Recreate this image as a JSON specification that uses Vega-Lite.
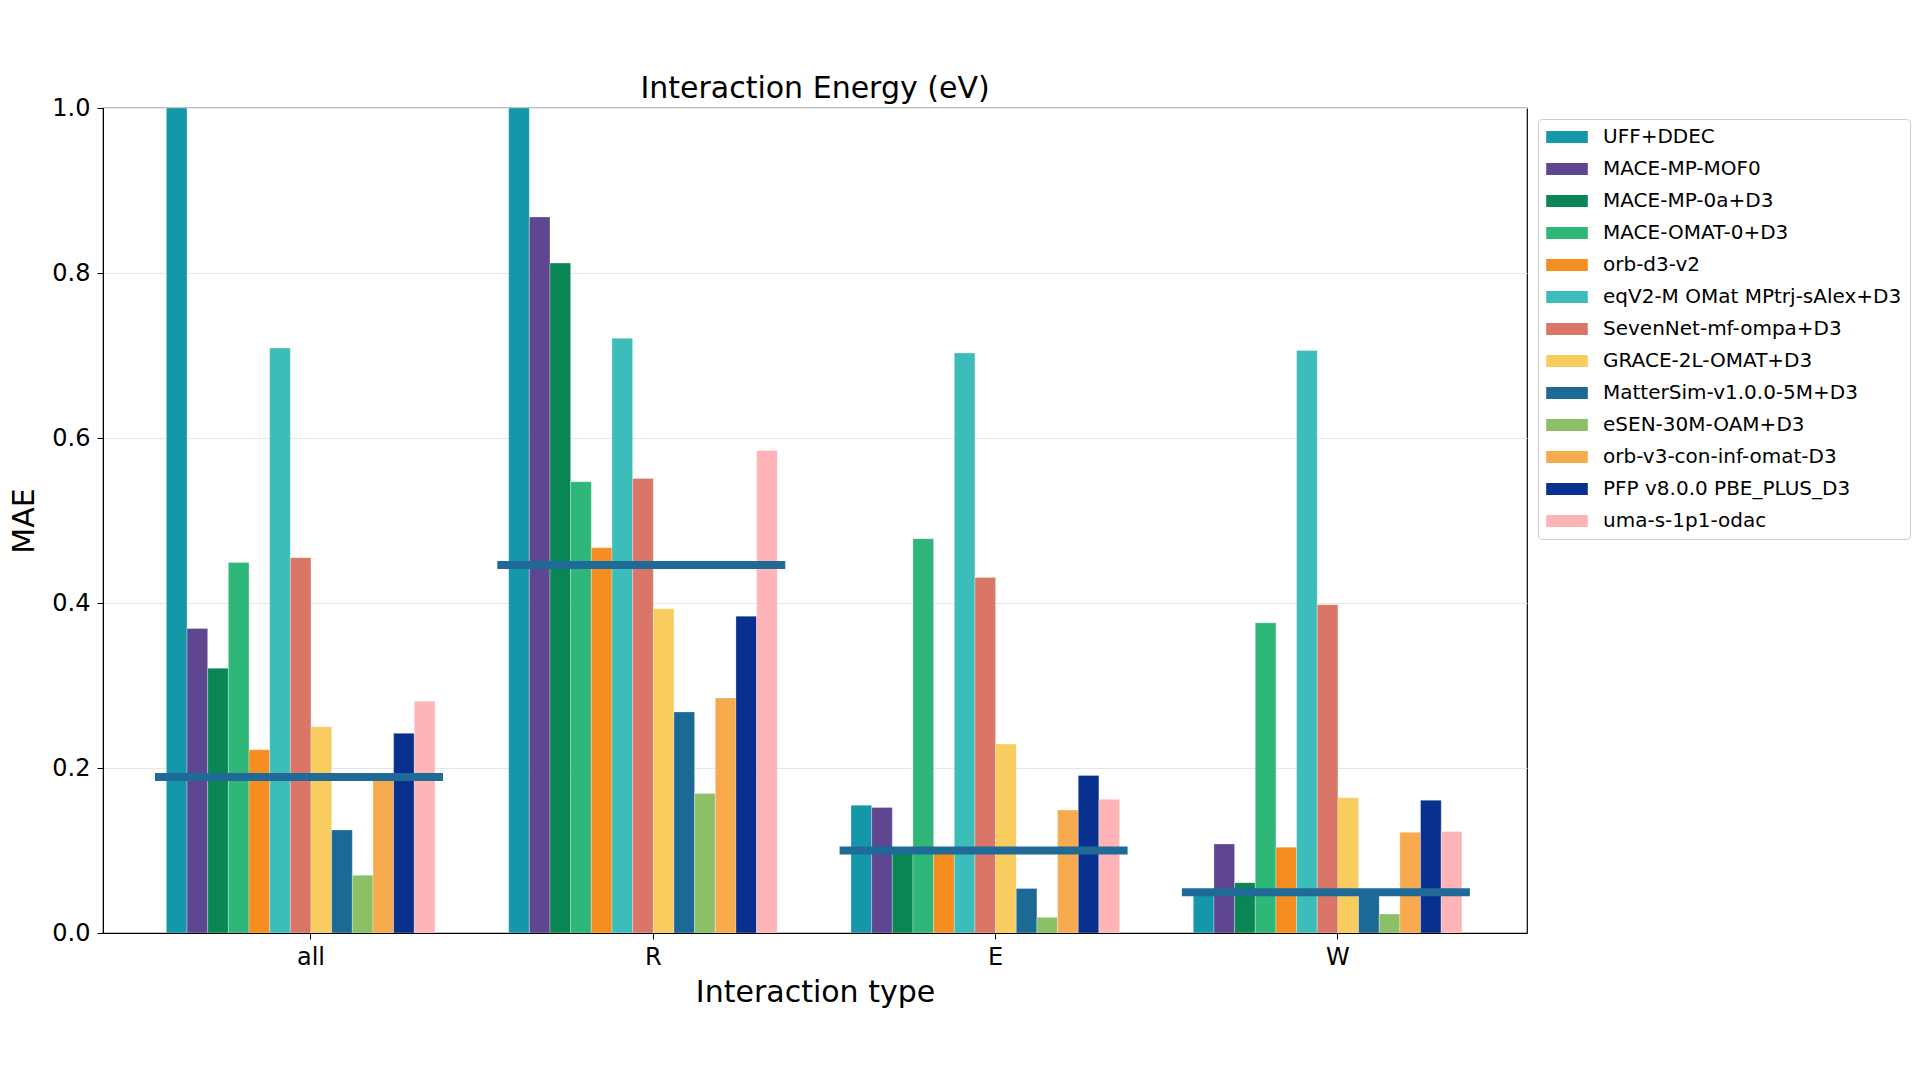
{
  "$schema": "https://vega.github.io/schema/vega-lite/v6.json",
  "width": 1424,
  "height": 825,
  "autosize": {"type": "none"},
  "padding": {"left": 103, "top": 108, "right": 393, "bottom": 147},
  "background": "white",
  "config": {
    "font": "DejaVu Sans",
    "view": {"stroke": "black", "strokeWidth": 1.2},
    "axis": {
      "labelColor": "black",
      "titleColor": "black",
      "titleFontWeight": "normal",
      "domainColor": "black",
      "tickColor": "black",
      "labelFontSize": 24,
      "titleFontSize": 30,
      "tickSize": 6
    }
  },
  "title": {
    "text": "Interaction Energy (eV)",
    "fontSize": 30,
    "fontWeight": "normal",
    "color": "black",
    "frame": "group",
    "anchor": "middle",
    "baseline": "alphabetic",
    "offset": -32
  },
  "datasets": {
    "bars": [
      {"type": "all", "model": "UFF+DDEC", "mae": 1.0},
      {"type": "all", "model": "MACE-MP-MOF0", "mae": 0.369},
      {"type": "all", "model": "MACE-MP-0a+D3", "mae": 0.321},
      {"type": "all", "model": "MACE-OMAT-0+D3", "mae": 0.449},
      {"type": "all", "model": "orb-d3-v2", "mae": 0.222},
      {"type": "all", "model": "eqV2-M OMat MPtrj-sAlex+D3", "mae": 0.709},
      {"type": "all", "model": "SevenNet-mf-ompa+D3", "mae": 0.455},
      {"type": "all", "model": "GRACE-2L-OMAT+D3", "mae": 0.25},
      {"type": "all", "model": "MatterSim-v1.0.0-5M+D3", "mae": 0.125},
      {"type": "all", "model": "eSEN-30M-OAM+D3", "mae": 0.07},
      {"type": "all", "model": "orb-v3-con-inf-omat-D3", "mae": 0.188},
      {"type": "all", "model": "PFP v8.0.0 PBE_PLUS_D3", "mae": 0.242},
      {"type": "all", "model": "uma-s-1p1-odac", "mae": 0.281},
      {"type": "R", "model": "UFF+DDEC", "mae": 1.0},
      {"type": "R", "model": "MACE-MP-MOF0", "mae": 0.868},
      {"type": "R", "model": "MACE-MP-0a+D3", "mae": 0.812},
      {"type": "R", "model": "MACE-OMAT-0+D3", "mae": 0.547},
      {"type": "R", "model": "orb-d3-v2", "mae": 0.467},
      {"type": "R", "model": "eqV2-M OMat MPtrj-sAlex+D3", "mae": 0.721},
      {"type": "R", "model": "SevenNet-mf-ompa+D3", "mae": 0.551},
      {"type": "R", "model": "GRACE-2L-OMAT+D3", "mae": 0.393},
      {"type": "R", "model": "MatterSim-v1.0.0-5M+D3", "mae": 0.268},
      {"type": "R", "model": "eSEN-30M-OAM+D3", "mae": 0.169},
      {"type": "R", "model": "orb-v3-con-inf-omat-D3", "mae": 0.285},
      {"type": "R", "model": "PFP v8.0.0 PBE_PLUS_D3", "mae": 0.384},
      {"type": "R", "model": "uma-s-1p1-odac", "mae": 0.585},
      {"type": "E", "model": "UFF+DDEC", "mae": 0.155},
      {"type": "E", "model": "MACE-MP-MOF0", "mae": 0.152},
      {"type": "E", "model": "MACE-MP-0a+D3", "mae": 0.098},
      {"type": "E", "model": "MACE-OMAT-0+D3", "mae": 0.478},
      {"type": "E", "model": "orb-d3-v2", "mae": 0.098},
      {"type": "E", "model": "eqV2-M OMat MPtrj-sAlex+D3", "mae": 0.703},
      {"type": "E", "model": "SevenNet-mf-ompa+D3", "mae": 0.431},
      {"type": "E", "model": "GRACE-2L-OMAT+D3", "mae": 0.229},
      {"type": "E", "model": "MatterSim-v1.0.0-5M+D3", "mae": 0.054},
      {"type": "E", "model": "eSEN-30M-OAM+D3", "mae": 0.019},
      {"type": "E", "model": "orb-v3-con-inf-omat-D3", "mae": 0.149},
      {"type": "E", "model": "PFP v8.0.0 PBE_PLUS_D3", "mae": 0.191},
      {"type": "E", "model": "uma-s-1p1-odac", "mae": 0.162},
      {"type": "W", "model": "UFF+DDEC", "mae": 0.046},
      {"type": "W", "model": "MACE-MP-MOF0", "mae": 0.108},
      {"type": "W", "model": "MACE-MP-0a+D3", "mae": 0.061},
      {"type": "W", "model": "MACE-OMAT-0+D3", "mae": 0.376},
      {"type": "W", "model": "orb-d3-v2", "mae": 0.104},
      {"type": "W", "model": "eqV2-M OMat MPtrj-sAlex+D3", "mae": 0.706},
      {"type": "W", "model": "SevenNet-mf-ompa+D3", "mae": 0.398},
      {"type": "W", "model": "GRACE-2L-OMAT+D3", "mae": 0.164},
      {"type": "W", "model": "MatterSim-v1.0.0-5M+D3", "mae": 0.048},
      {"type": "W", "model": "eSEN-30M-OAM+D3", "mae": 0.023},
      {"type": "W", "model": "orb-v3-con-inf-omat-D3", "mae": 0.122},
      {"type": "W", "model": "PFP v8.0.0 PBE_PLUS_D3", "mae": 0.161},
      {"type": "W", "model": "uma-s-1p1-odac", "mae": 0.123}
    ],
    "means": [
      {"type": "all", "avg": 0.189},
      {"type": "R", "avg": 0.446},
      {"type": "E", "avg": 0.1},
      {"type": "W", "avg": 0.0495}
    ]
  },
  "layer": [
    {
      "data": {"name": "bars"},
      "mark": {"type": "bar", "clip": true, "stroke": "white", "strokeWidth": 0.6, "strokeOpacity": 0.5},
      "encoding": {
        "x": {
          "field": "type",
          "type": "nominal",
          "title": "Interaction type",
          "scale": {"domain": ["all", "R", "E", "W"], "paddingInner": 0.155, "paddingOuter": 0.1575, "align": 0.5876},
          "axis": {"labelAngle": 0, "grid": false, "labelPadding": 6, "titlePadding": 8}
        },
        "xOffset": {
          "field": "model",
          "type": "nominal",
          "scale": {
            "domain": ["UFF+DDEC", "MACE-MP-MOF0", "MACE-MP-0a+D3", "MACE-OMAT-0+D3", "orb-d3-v2", "eqV2-M OMat MPtrj-sAlex+D3", "SevenNet-mf-ompa+D3", "GRACE-2L-OMAT+D3", "MatterSim-v1.0.0-5M+D3", "eSEN-30M-OAM+D3", "orb-v3-con-inf-omat-D3", "PFP v8.0.0 PBE_PLUS_D3", "uma-s-1p1-odac", " "],
            "paddingInner": 0,
            "paddingOuter": 0
          }
        },
        "y": {
          "field": "mae",
          "type": "quantitative",
          "title": "MAE",
          "scale": {"domain": [0, 1], "nice": false},
          "axis": {"values": [0, 0.2, 0.4, 0.6, 0.8, 1.0], "format": ".1f", "grid": true, "gridColor": "#e6e6e6", "gridWidth": 1.2, "labelPadding": 7, "titlePadding": 12}
        },
        "color": {
          "field": "model",
          "type": "nominal",
          "scale": {
            "domain": ["UFF+DDEC", "MACE-MP-MOF0", "MACE-MP-0a+D3", "MACE-OMAT-0+D3", "orb-d3-v2", "eqV2-M OMat MPtrj-sAlex+D3", "SevenNet-mf-ompa+D3", "GRACE-2L-OMAT+D3", "MatterSim-v1.0.0-5M+D3", "eSEN-30M-OAM+D3", "orb-v3-con-inf-omat-D3", "PFP v8.0.0 PBE_PLUS_D3", "uma-s-1p1-odac"],
            "range": ["#1597aa", "#5e4690", "#0a8554", "#2fb679", "#f58d21", "#3cbdba", "#d97668", "#f8cc5e", "#1d6996", "#8bc066", "#f8aa4f", "#08308e", "#ffb4b8"]
          },
          "legend": {
            "title": null,
            "orient": "none",
            "legendX": 1435,
            "legendY": 11,
            "labelFontSize": 20,
            "labelColor": "black",
            "symbolType": "M-1,-0.29L1,-0.29L1,0.29L-1,0.29Z",
            "symbolSize": 1730,
            "symbolStrokeWidth": 0,
            "symbolOpacity": 1,
            "labelOffset": 15,
            "clipHeight": 20,
            "rowPadding": 12,
            "padding": 8,
            "strokeColor": "#cccccc",
            "fillColor": "white",
            "cornerRadius": 4,
            "labelLimit": 400
          }
        }
      }
    },
    {
      "data": {"name": "means"},
      "mark": {"type": "tick", "size": 288, "thickness": 8, "color": "#1f6a96", "opacity": 1, "xOffset": -12, "clip": true},
      "encoding": {
        "x": {"field": "type", "type": "nominal"},
        "y": {"field": "avg", "type": "quantitative"}
      }
    }
  ]
}
